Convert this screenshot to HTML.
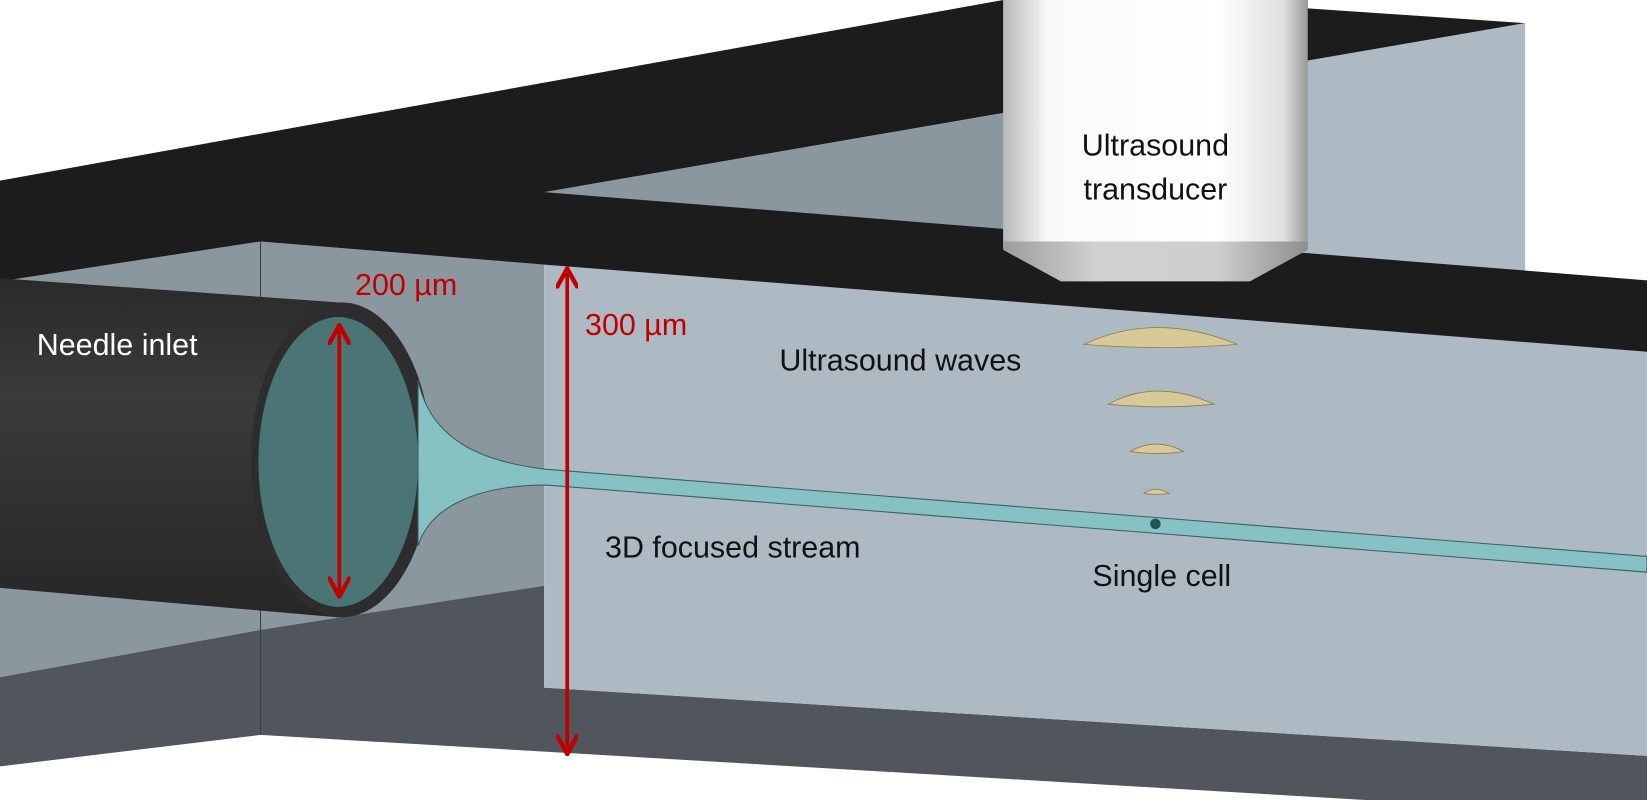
<!DOCTYPE html>
<html><head><style>html,body{margin:0;padding:0;background:#fff}svg{display:block}</style></head>
<body>
<svg width="1647" height="800" viewBox="0 0 1568 762" preserveAspectRatio="none" xmlns="http://www.w3.org/2000/svg" font-family="Liberation Sans, sans-serif">
<defs>
<linearGradient id="tr" x1="0" x2="1" y1="0" y2="0">
<stop offset="0" stop-color="#b8b8b8"/><stop offset="0.15" stop-color="#fafafa"/><stop offset="0.7" stop-color="#ffffff"/><stop offset="0.92" stop-color="#e0e0e0"/><stop offset="1" stop-color="#9a9a9a"/></linearGradient>
<linearGradient id="tb" x1="0" x2="1" y1="0" y2="0">
<stop offset="0" stop-color="#9c9c9c"/><stop offset="0.3" stop-color="#d0d0d0"/><stop offset="0.7" stop-color="#cfcfcf"/><stop offset="1" stop-color="#8e8e8e"/></linearGradient>
<linearGradient id="nd" x1="0" x2="0" y1="0" y2="1">
<stop offset="0" stop-color="#2a2a2a"/><stop offset="0.35" stop-color="#3b3b3b"/><stop offset="1" stop-color="#262626"/></linearGradient>
<marker id="ah" viewBox="0 0 10 10" refX="8" refY="5" markerWidth="6" markerHeight="6" orient="auto-start-reverse"><path d="M0,0 L9,5 L0,10" fill="none" stroke="#c00000" stroke-width="2"/></marker>
</defs>
<rect width="1568" height="762" fill="#fff"/>
<polygon points="518,183 1452,22 1452,270 518,252" fill="#adbac3"/>
<polygon points="518,183 955,108 955,220 518,220" fill="#8a979f"/>
<polygon points="0,268 248,230 518,252 518,560 248,600 0,645" fill="#8a979f"/>
<polygon points="0,645 248,600 518,558 518,655 1568,720 1568,762 1300,762 248,700 0,730" fill="#50565c"/>
<line x1="248" y1="230" x2="248" y2="700" stroke="#3a3f44" stroke-width="1"/>
<polygon points="518,252 1568,335 1568,720 518,655" fill="#adbac3"/>
<polygon points="0,172 955,0 1245,0 1245,8 1452,22 518,183 1568,267 1568,335 518,252 248,230 0,268" fill="#1c1c1c"/>
<polygon points="0,265 322,288 322,588 0,560" fill="url(#nd)"/>
<ellipse cx="325" cy="438" rx="86" ry="150" fill="#2d2d2d"/>
<ellipse cx="322" cy="440" rx="76" ry="138" fill="#4b7574"/>
<path d="M398,362 C410,420 460,440 520,447 L1568,530 L1568,545 L520,462 C460,462 410,480 398,520 Z" fill="#86c1c4" stroke="#3c5f61" stroke-width="1"/>
<rect x="955" y="0" width="290" height="236" fill="url(#tr)"/>
<path d="M955,230 L1245,230 L1245,238 L1190,268 L1010,268 L955,238 Z" fill="url(#tb)"/>
<path d="M1032,328 Q1100,296 1178,328 Q1105,334 1032,328 Z" fill="#d8ca98" stroke="#8a7d50" stroke-width="0.8"/>
<path d="M1055,385 Q1100,360 1156,385 Q1105,390 1055,385 Z" fill="#d8ca98" stroke="#8a7d50" stroke-width="0.8"/>
<path d="M1076,430 Q1100,416 1127,430 Q1102,434 1076,430 Z" fill="#d8ca98" stroke="#8a7d50" stroke-width="0.8"/>
<path d="M1089,470 Q1100,462 1113,470 Q1101,472 1089,470 Z" fill="#d8ca98" stroke="#8a7d50" stroke-width="0.8"/>
<circle cx="1100" cy="499" r="5" fill="#1e5553"/>
<line x1="540" y1="258" x2="540" y2="716" stroke="#c00000" stroke-width="3.5" marker-start="url(#ah)" marker-end="url(#ah)"/>
<line x1="323" y1="312" x2="323" y2="566" stroke="#c00000" stroke-width="3.5" marker-start="url(#ah)" marker-end="url(#ah)"/>
<g font-size="29" fill="#111">
<text x="1100" y="148" text-anchor="middle">Ultrasound</text>
<text x="1100" y="190" text-anchor="middle">transducer</text>
<text x="742" y="353">Ultrasound waves</text>
<text x="576" y="531">3D focused stream</text>
<text x="1040" y="558">Single cell</text>
</g>
<text x="35" y="338" font-size="29" fill="#fff">Needle inlet</text>
<text x="338" y="281" font-size="29" fill="#c00000">200 µm</text>
<text x="557" y="319" font-size="29" fill="#c00000">300 µm</text>
</svg>
</body></html>
